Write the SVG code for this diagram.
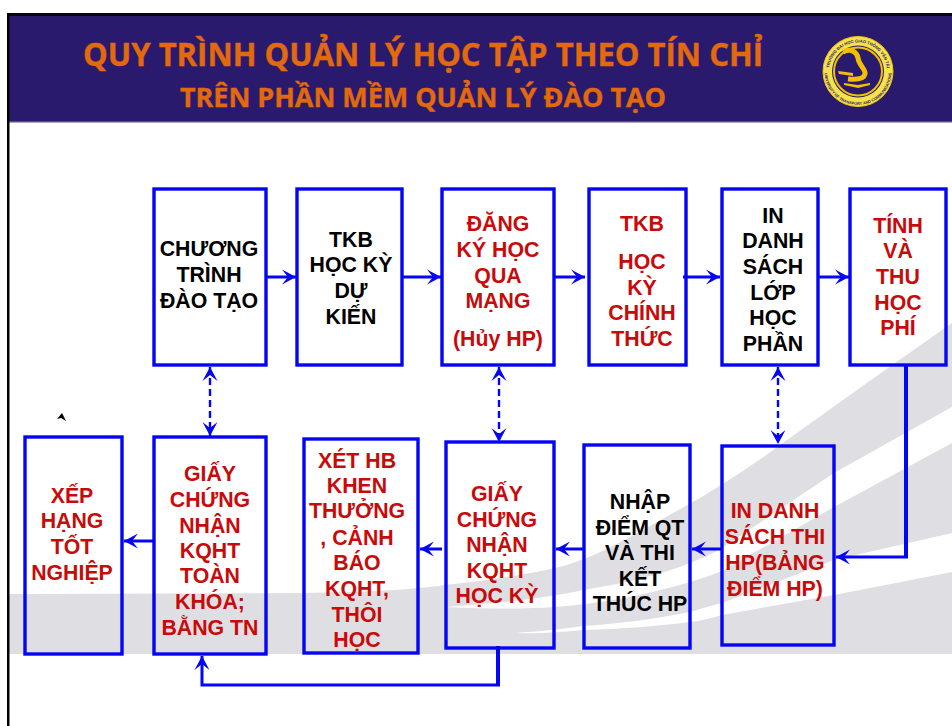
<svg xmlns="http://www.w3.org/2000/svg" width="952" height="726" viewBox="0 0 952 726">
<style>
.box{fill:none;stroke:#0505f5;stroke-width:3.4}
.t{font-family:"Liberation Sans",Arial,sans-serif;font-weight:700;font-size:21.3px;text-anchor:middle}
.r{fill:#c80a0a}
.k{fill:#000}
.title{font-family:"Open Sans","Noto Sans",sans-serif;font-weight:700;fill:#e2690c;stroke:#e2690c;stroke-width:.4}
.c{fill:none;stroke:#0505f5;stroke-width:3}
.d{fill:none;stroke:#0505f5;stroke-width:2.4;stroke-dasharray:7 4}
.logo{font-family:"Liberation Sans",Arial,sans-serif;font-weight:700;font-size:4.2px;fill:#2a1a6e}
</style>
<defs>
<marker id="a" markerUnits="userSpaceOnUse" markerWidth="18" markerHeight="18" refX="15" refY="8" orient="auto-start-reverse" overflow="visible">
<path d="M15,8 L1,0.5 L7,8 L1,15.5 Z" fill="#0505f5"/>
</marker>
<path id="la" d="M829,71.5 A29,29 0 0 1 887,71.5"/>
<path id="lb" d="M824.5,71.5 A33.5,33.5 0 0 0 891.5,71.5"/>
</defs>
<rect width="952" height="726" fill="#fff"/>
<g id="background">
<path d="M9,594 L300,593 C370,592 410,590 445,585 C490,580 530,574 555,568 C600,558 650,525 700,498 C730,480 760,460 780,445 L878,375 L952,323 L952,654 L9,654 Z" fill="#dfdfe3"/>
<path d="M952,407 L834,473 L722,548 C710,555 700,559 690,563 C655,577 620,584 583,590 C550,598 490,604 447,607 C490,609 525,609 555,607 C600,604 650,594 690,582 C700,579 712,575 722,571 L834,507 L952,443 Z" fill="#fff"/>
<path d="M952,533 L834,560 L722,603 C710,606 700,609 690,612 C650,620 615,624 583,626 C555,630 530,632 515,633 C540,634 560,632 583,630 C620,629 660,626 690,622 C700,621 712,618 722,615 L834,595 L952,572 Z" fill="#fff"/>
</g>
<rect x="9" y="16" width="943" height="105" fill="#2a1a6e"/>
<rect x="9" y="121" width="943" height="1.5" fill="#5a4d85"/>
<rect x="7" y="13" width="945" height="3" fill="#0a0410"/>
<rect x="7" y="13" width="2.5" height="713" fill="#000"/>
<g id="title">
<text class="title" x="83" y="66" font-size="32" textLength="680" lengthAdjust="spacingAndGlyphs">QUY TRÌNH QUẢN LÝ HỌC TẬP THEO TÍN CHỈ</text>
<text class="title" x="180" y="107" font-size="27.5" textLength="486" lengthAdjust="spacingAndGlyphs">TRÊN PHẦN MỀM QUẢN LÝ ĐÀO TẠO</text>
</g>
<g id="logo">
<circle cx="858" cy="71.5" r="35" fill="#f6e24a" stroke="#f2c80f" stroke-width="1"/>
<circle cx="858" cy="71.5" r="26" fill="#2a1a6e"/>
<circle cx="858" cy="71.5" r="24" fill="none" stroke="#f2c000" stroke-width="2"/>
<text class="logo"><textPath href="#la" startOffset="50%" text-anchor="middle">TRƯỜNG ĐẠI HỌC GIAO THÔNG VẬN TẢI</textPath></text>
<text class="logo" style="font-size:3.9px"><textPath href="#lb" startOffset="50%" text-anchor="middle">UNIVERSITY OF TRANSPORT AND COMMUNICATIONS</textPath></text>
<path d="M843,52 C851,48 857,52 858,58 C859,66 866,69 865,74 C864,79 858,80 848,79" fill="none" stroke="#f2c000" stroke-width="5"/>
<path d="M838,71 L853,73 L853,76 L839,74 Z M844,83 L858,85 L870,83 L870,85 L858,88 L844,85 Z" fill="#f2c000"/>
</g>
<g id="connectors">
<path class="c" d="M266,277 H296" marker-end="url(#a)"/>
<path class="c" d="M402,277 H441" marker-end="url(#a)"/>
<path class="c" d="M554,277 H585" marker-end="url(#a)"/>
<path class="c" d="M683,277 H720" marker-end="url(#a)"/>
<path class="c" d="M818,277 H849" marker-end="url(#a)"/>
<path class="d" d="M210,367 V436" marker-start="url(#a)" marker-end="url(#a)"/>
<path class="d" d="M499,367 V442" marker-start="url(#a)" marker-end="url(#a)"/>
<path class="d" d="M778,367 V444" marker-start="url(#a)" marker-end="url(#a)"/>
<path class="c" style="stroke-width:4" d="M906,365 V557"/>
<path class="c" d="M908,557 H836" marker-end="url(#a)"/>
<path class="c" d="M722,549 H692" marker-end="url(#a)"/>
<path class="c" d="M584,549 H556" marker-end="url(#a)"/>
<path class="c" d="M442,549 H420" marker-end="url(#a)"/>
<path class="c" d="M154,541 H124" marker-end="url(#a)"/>
<path class="c" style="stroke-width:4" d="M498,646 V685"/>
<path class="c" d="M500,685 H202 V656" marker-end="url(#a)"/>
</g>
<path id="mark" d="M57,419 L62,413 L66,421 L61,418 Z" fill="#000"/>
<g id="n1"><rect class="box" x="154" y="189" width="112" height="176"/><text class="t k"><tspan x="209" y="256">CHƯƠNG</tspan><tspan x="209" y="282">TRÌNH</tspan><tspan x="209" y="308">ĐÀO TẠO</tspan></text></g>
<g id="n2"><rect class="box" x="297" y="189" width="105" height="176"/><text class="t k"><tspan x="351" y="247">TKB</tspan><tspan x="351" y="272">HỌC KỲ</tspan><tspan x="351" y="298">DỰ</tspan><tspan x="351" y="324">KIẾN</tspan></text></g>
<g id="n3"><rect class="box" x="442" y="189" width="112" height="176"/><text class="t r"><tspan x="498" y="231">ĐĂNG</tspan><tspan x="498" y="257">KÝ HỌC</tspan><tspan x="498" y="283">QUA</tspan><tspan x="498" y="308">MẠNG</tspan><tspan x="498" y="346">(Hủy HP)</tspan></text></g>
<g id="n4"><rect class="box" x="589" y="189" width="97" height="176"/><text class="t r"><tspan x="642" y="231">TKB</tspan><tspan x="642" y="269">HỌC</tspan><tspan x="642" y="295">KỲ</tspan><tspan x="642" y="320">CHÍNH</tspan><tspan x="642" y="346">THỨC</tspan></text></g>
<g id="n5"><rect class="box" x="722" y="189" width="96" height="176"/><text class="t k"><tspan x="773" y="223">IN</tspan><tspan x="773" y="248">DANH</tspan><tspan x="773" y="274">SÁCH</tspan><tspan x="773" y="300">LỚP</tspan><tspan x="773" y="325">HỌC</tspan><tspan x="773" y="351">PHẦN</tspan></text></g>
<g id="n6"><rect class="box" x="850" y="189" width="96" height="176"/><text class="t r"><tspan x="898" y="233">TÍNH</tspan><tspan x="898" y="258">VÀ</tspan><tspan x="898" y="284">THU</tspan><tspan x="898" y="310">HỌC</tspan><tspan x="898" y="335">PHÍ</tspan></text></g>
<g id="n7"><rect class="box" x="25" y="437" width="97" height="217"/><text class="t r"><tspan x="72" y="503">XẾP</tspan><tspan x="72" y="528">HẠNG</tspan><tspan x="72" y="554">TỐT</tspan><tspan x="72" y="580">NGHIỆP</tspan></text></g>
<g id="n8"><rect class="box" x="154" y="437" width="112" height="217"/><text class="t r"><tspan x="210" y="481">GIẤY</tspan><tspan x="210" y="507">CHỨNG</tspan><tspan x="210" y="533">NHẬN</tspan><tspan x="210" y="558">KQHT</tspan><tspan x="210" y="583">TOÀN</tspan><tspan x="210" y="609">KHÓA;</tspan><tspan x="210" y="635">BẰNG TN</tspan></text></g>
<g id="n9"><rect class="box" x="304" y="439" width="114" height="214"/><text class="t r"><tspan x="357" y="468">XÉT HB</tspan><tspan x="357" y="493">KHEN</tspan><tspan x="357" y="518">THƯỞNG</tspan><tspan x="357" y="545">, CẢNH</tspan><tspan x="357" y="570">BÁO</tspan><tspan x="357" y="596">KQHT,</tspan><tspan x="357" y="622">THÔI</tspan><tspan x="357" y="647">HỌC</tspan></text></g>
<g id="n10"><rect class="box" x="446" y="442" width="108" height="206"/><text class="t r"><tspan x="497" y="501">GIẤY</tspan><tspan x="497" y="527">CHỨNG</tspan><tspan x="497" y="552">NHẬN</tspan><tspan x="497" y="578">KQHT</tspan><tspan x="497" y="603">HỌC KỲ</tspan></text></g>
<g id="n11"><rect class="box" x="584" y="445" width="106" height="203"/><text class="t k"><tspan x="640" y="509">NHẬP</tspan><tspan x="640" y="535">ĐIỂM QT</tspan><tspan x="640" y="560">VÀ THI</tspan><tspan x="640" y="586">KẾT</tspan><tspan x="640" y="611">THÚC HP</tspan></text></g>
<g id="n12"><rect class="box" x="722" y="446" width="112" height="199"/><text class="t r"><tspan x="775" y="518">IN DANH</tspan><tspan x="775" y="544">SÁCH THI</tspan><tspan x="775" y="570">HP(BẢNG</tspan><tspan x="775" y="596">ĐIỂM HP)</tspan></text></g>
</svg>
